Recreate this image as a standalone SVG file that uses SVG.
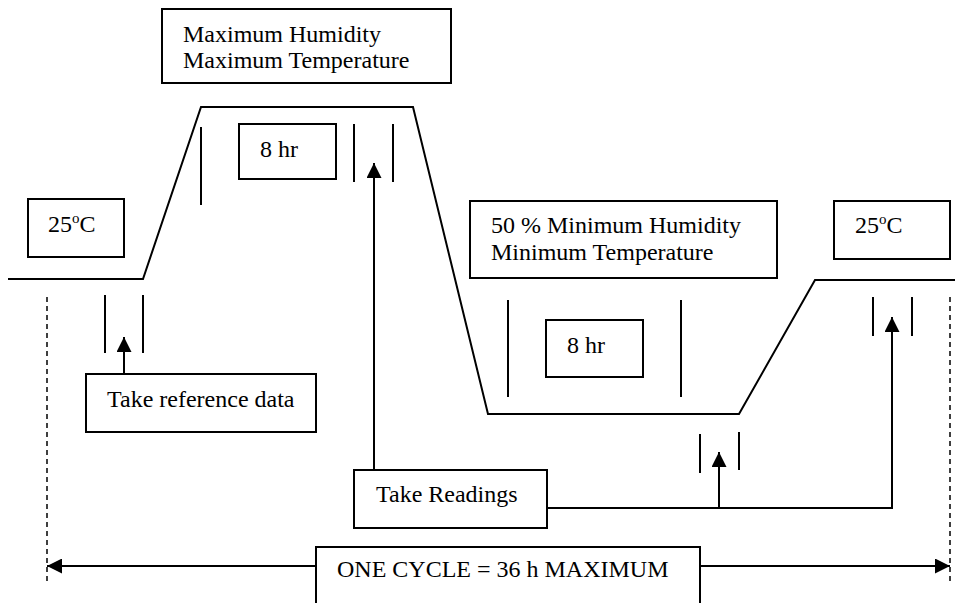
<svg xmlns="http://www.w3.org/2000/svg" width="955" height="603" viewBox="0 0 955 603" font-family="'Liberation Serif', 'Times New Roman', 'DejaVu Serif', serif">
<style>
.box{fill:#fff;stroke:#000;stroke-width:2}
.ln{fill:none;stroke:#000;stroke-width:2}
.dash{fill:none;stroke:#000;stroke-width:1.5;stroke-dasharray:5 4}
.t{font-family:'Liberation Serif', 'Times New Roman', 'DejaVu Serif', serif;font-size:24px;fill:#000}
.sup{font-size:15px}
</style>
<defs>
<marker id="ah" viewBox="0 0 10 10" refX="10" refY="5" markerWidth="16" markerHeight="15" markerUnits="userSpaceOnUse" orient="auto">
<path d="M0,0 L10,5 L0,10 Z" fill="#000"/>
</marker>
</defs>
<g id="profile">
<polyline class="ln" points="8,279 143,279 201,107 413,107 488,414 739,414 815,280 955,280"/>
</g>
<g id="markers">
<line class="ln" x1="201" y1="127" x2="201" y2="205"/>
<line class="ln" x1="354" y1="124" x2="354" y2="182"/>
<line class="ln" x1="393" y1="124" x2="393" y2="182"/>
<line class="ln" x1="105" y1="295" x2="105" y2="353"/>
<line class="ln" x1="143" y1="295" x2="143" y2="353"/>
<line class="ln" x1="508" y1="300" x2="508" y2="397"/>
<line class="ln" x1="681" y1="300" x2="681" y2="397"/>
<line class="ln" x1="700" y1="434" x2="700" y2="473"/>
<line class="ln" x1="739" y1="432" x2="739" y2="470"/>
<line class="ln" x1="873" y1="297" x2="873" y2="336"/>
<line class="ln" x1="912" y1="297" x2="912" y2="336"/>
<line class="dash" x1="47" y1="297" x2="47" y2="584"/>
<line class="dash" x1="950" y1="297" x2="950" y2="584"/>
</g>
<g id="connectors">
<line class="ln" x1="124" y1="374" x2="124" y2="337" marker-end="url(#ah)"/>
<line class="ln" x1="374" y1="470" x2="374" y2="163" marker-end="url(#ah)"/>
<polyline class="ln" points="547,508 892,508 892,317" marker-end="url(#ah)"/>
<line class="ln" x1="719" y1="508" x2="719" y2="452" marker-end="url(#ah)"/>
<line class="ln" x1="316" y1="566" x2="47" y2="566" marker-end="url(#ah)"/>
<line class="ln" x1="700" y1="566" x2="950" y2="566" marker-end="url(#ah)"/>
</g>
<g id="max-box">
<rect class="box" x="162" y="9" width="289" height="74"/>
<text class="t" x="183" y="42">Maximum Humidity</text>
<text class="t" x="183" y="68">Maximum Temperature</text>
</g>
<g id="hr8-top">
<rect class="box" x="239" y="124" width="97" height="55"/>
<text class="t" x="260" y="157">8 hr</text>
</g>
<g id="temp-left">
<rect class="box" x="28" y="199" width="96" height="58"/>
<text class="t" x="48" y="232">25<tspan class="sup" dy="-9">o</tspan><tspan dy="9">C</tspan></text>
</g>
<g id="min-box">
<rect class="box" x="470" y="201" width="307" height="77"/>
<text class="t" x="491" y="233">50 % Minimum Humidity</text>
<text class="t" x="491" y="260">Minimum Temperature</text>
</g>
<g id="temp-right">
<rect class="box" x="834" y="201" width="116" height="58"/>
<text class="t" x="855" y="233">25<tspan class="sup" dy="-9">o</tspan><tspan dy="9">C</tspan></text>
</g>
<g id="hr8-bottom">
<rect class="box" x="546" y="320" width="97" height="57"/>
<text class="t" x="567" y="353">8 hr</text>
</g>
<g id="ref-data">
<rect class="box" x="86" y="374" width="230" height="58"/>
<text class="t" x="107" y="407">Take reference data</text>
</g>
<g id="readings">
<rect class="box" x="354" y="470" width="193" height="58"/>
<text class="t" x="376" y="502">Take Readings</text>
</g>
<g id="cycle">
<rect class="box" x="316" y="547" width="384" height="70"/>
<text class="t" x="337" y="577">ONE CYCLE = 36 h MAXIMUM</text>
</g>
</svg>
